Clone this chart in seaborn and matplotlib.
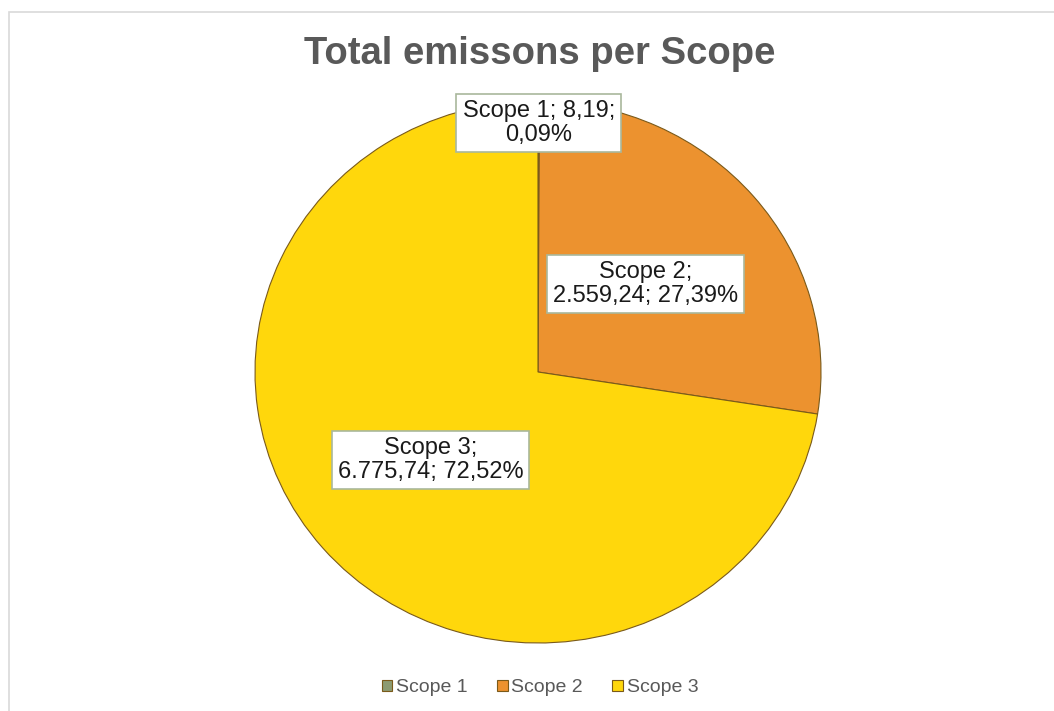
import numpy as np
import matplotlib
matplotlib.use("Agg")
import matplotlib.pyplot as plt
import seaborn as sns
from matplotlib.patches import Rectangle

categories = ["Scope 1", "Scope 2", "Scope 3"]
values = [8.19, 2559.24, 6775.74]
title = "Total emissons per Scope"

sns.set_theme(style="white")
plt.rcParams["font.family"] = ["Liberation Sans", "DejaVu Sans"]

colors = sns.color_palette(["#8C9B72", "#EC922F", "#FFD70C"])


def fmt_eu(v, dec=2):
    s = f"{v:,.{dec}f}"
    return s.replace(",", "X").replace(".", ",").replace("X", ".")


W, H = 1054, 711
fig = plt.figure(figsize=(W / 100, H / 100), dpi=100)

# outer chart frame (light gray)
fig.add_artist(Rectangle((9 / W, -0.05), 1.1, 1 - 12 / H + 0.05,
                         transform=fig.transFigure, fill=False,
                         edgecolor="#D9D9D9", linewidth=1.2))

cx, cy, rx, ry = 538, 372, 283, 271
ax = fig.add_axes([(cx - rx) / W, (H - cy - ry) / H, 2 * rx / W, 2 * ry / H])

wedges, _ = ax.pie(values, colors=colors, startangle=90, counterclock=False,
                   radius=1.0,
                   wedgeprops=dict(edgecolor="#7a5a1a", linewidth=0.8))
ax.set_aspect("auto")
ax.set_xlim(-1, 1)
ax.set_ylim(-1, 1)
ax.axis("off")

total = sum(values)
dists = [0.92, 0.5, 0.5]
for w, cat, v, d in zip(wedges, categories, values, dists):
    pct = v / total * 100
    if cat == "Scope 1":
        txt = f"{cat}; {fmt_eu(v)};\n{fmt_eu(pct)}%"
    else:
        txt = f"{cat};\n{fmt_eu(v)}; {fmt_eu(pct)}%"
    ang = np.deg2rad((w.theta1 + w.theta2) / 2)
    ax.text(d * np.cos(ang), d * np.sin(ang), txt, ha="center", va="center",
            fontsize=17, color="#1a1a1a", linespacing=1.12,
            bbox=dict(boxstyle="square,pad=0.26", facecolor="white",
                      edgecolor="#A9B89C", linewidth=1.2))

fig.text(540 / W, 1 - 54 / H, title, ha="center", va="center",
         fontsize=27.5, fontweight="bold", color="#595959")

leg = fig.legend(wedges, categories, loc="center", bbox_to_anchor=(540 / W, 1 - 688 / H),
                 ncol=3, frameon=False, fontsize=14, handlelength=0.55,
                 handleheight=0.55, handletextpad=0.2, columnspacing=1.5)
for t in leg.get_texts():
    t.set_color("#595959")

fig.savefig("out.png", dpi=100)
